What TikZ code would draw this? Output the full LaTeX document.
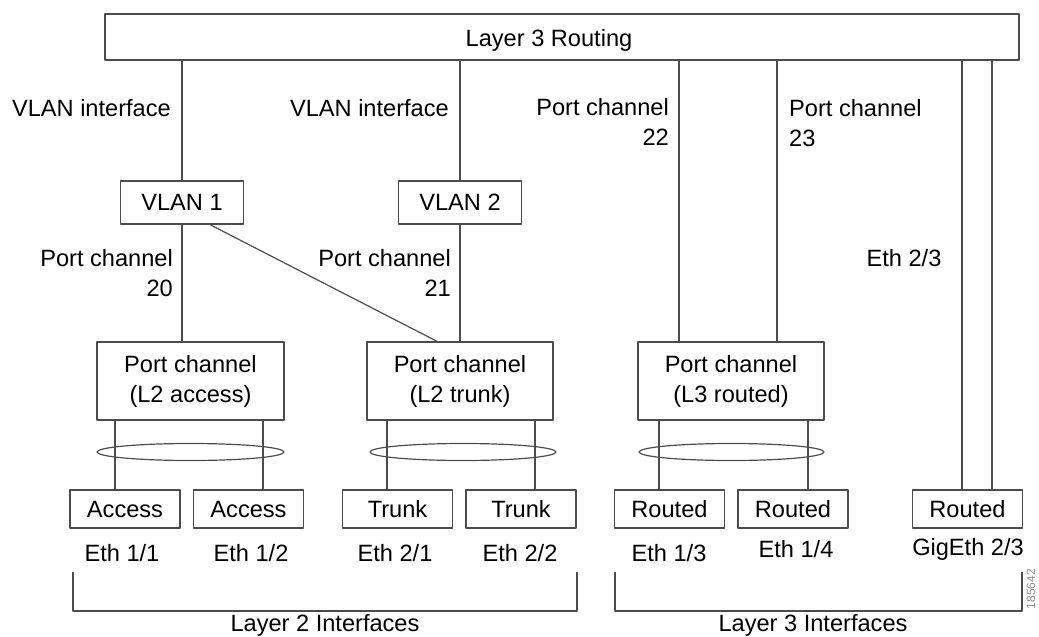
\documentclass[tikz,border=0pt]{standalone}
\usepackage{fontspec}
\setmainfont{Liberation Sans}
\tikzset{
  box/.style={draw=black!70, line width=1.3pt, inner sep=0pt, align=center},
  wire/.style={draw=black!70, line width=1.2pt},
  lbl/.style={inner sep=0pt}
}
\begin{document}
\begin{tikzpicture}[x=1pt,y=-1pt,font=\fontsize{23.6}{30}\selectfont,line join=round]
  \useasboundingbox (0,0) rectangle (1039,637);
  % boxes
  \node[box, minimum width=914, minimum height=46] (l3r) at (562,37) {};
  \node[lbl] (l3rt) at (549,40) {Layer 3 Routing};
  \node[box, minimum width=123, minimum height=43] (vlan1) at (182,202.5) {VLAN 1};
  \node[box, minimum width=123, minimum height=43] (vlan2) at (460,202.5) {VLAN 2};
  \node[box, minimum width=187, minimum height=78] (pcA) at (190.5,381) {Port channel\\(L2 access)};
  \node[box, minimum width=186, minimum height=78] (pcT) at (460,381) {Port channel\\(L2 trunk)};
  \node[box, minimum width=186, minimum height=78] (pcR) at (731,381) {Port channel\\(L3 routed)};
  \foreach \n/\x/\t in {acc1/125/Access, acc2/248.5/Access, tr1/397.5/Trunk, tr2/521/Trunk,
                        ro1/669.5/Routed, ro2/793/Routed, ro3/967.5/Routed}
    \node[box, minimum width=110, minimum height=38] (\n) at (\x,509) {\t};
  % labels
  \node[lbl, anchor=east] (vi1) at (171,108) {VLAN interface};
  \node[lbl, anchor=east] (vi2) at (449,108) {VLAN interface};
  \node[lbl, anchor=east, align=right] (pc20) at (173,273) {Port channel\\20};
  \node[lbl, anchor=east, align=right] (pc21) at (451,273) {Port channel\\21};
  \node[lbl, anchor=east, align=right] (pc22) at (669,122) {Port channel\\22};
  \node[lbl, anchor=west, align=left] (pc23) at (789,123) {Port channel\\23};
  \node[lbl] (e23) at (904,258) {Eth 2/3};
  \foreach \n/\x/\y/\t in {e11/122/553/{Eth 1/1}, e12/251/553/{Eth 1/2}, e21/395/553/{Eth 2/1},
                           e22/520/553/{Eth 2/2}, e13/669/553/{Eth 1/3}, e14/796/549/{Eth 1/4},
                           g23/968/549/{GigEth 2/3}}
    \node[lbl] (\n) at (\x,\y) {\t};
  \node[lbl] (l2i) at (325,625) {Layer 2 Interfaces};
  \node[lbl] (l3i) at (813,625) {Layer 3 Interfaces};
  \node[lbl, rotate=90, text=black!45, font=\fontsize{12}{14}\selectfont] (fig) at (1031,589) {185642};
  % wires
  \draw[wire] (vlan1.north |- l3r.south) -- (vlan1.north);
  \draw[wire] (vlan2.north |- l3r.south) -- (vlan2.north);
  \draw[wire] (vlan1.south) -- (vlan1.south |- pcA.north);
  \draw[wire] (vlan2.south) -- (vlan2.south |- pcT.north);
  \draw[wire] ([xshift=28]vlan1.south) -- ([xshift=-23]pcT.north);
  \coordinate (p22) at ([xshift=-52]pcR.north);
  \coordinate (p23) at ([xshift=46]pcR.north);
  \draw[wire] (p22 |- l3r.south) -- (p22);
  \draw[wire] (p23 |- l3r.south) -- (p23);
  \foreach \s in {-5.5,24.5} {
    \coordinate (g) at ([xshift=\s]ro3.north);
    \draw[wire] (g |- l3r.south) -- (g);
  }
  \foreach \n/\p/\s in {acc1/pcA/-10, acc2/pcA/14.5, tr1/pcT/-10.5, tr2/pcT/14,
                        ro1/pcR/-10.5, ro2/pcR/15} {
    \coordinate (t) at ([xshift=\s]\n.north);
    \draw[wire] (t |- \p.south) -- (t);
  }
  % bundles
  \draw[wire] (190.5,452) ellipse [x radius=93.5pt, y radius=8.5pt];
  \draw[wire] (463,452) ellipse [x radius=93pt, y radius=8.5pt];
  \draw[wire] (731.5,452) ellipse [x radius=92.5pt, y radius=8.5pt];
  % brackets
  \draw[wire] (73,572) -- (73,611) -- (577,611) -- (577,572);
  \draw[wire] (615,572) -- (615,611) -- (1022,611) -- (1022,572);
\end{tikzpicture}
\end{document}
